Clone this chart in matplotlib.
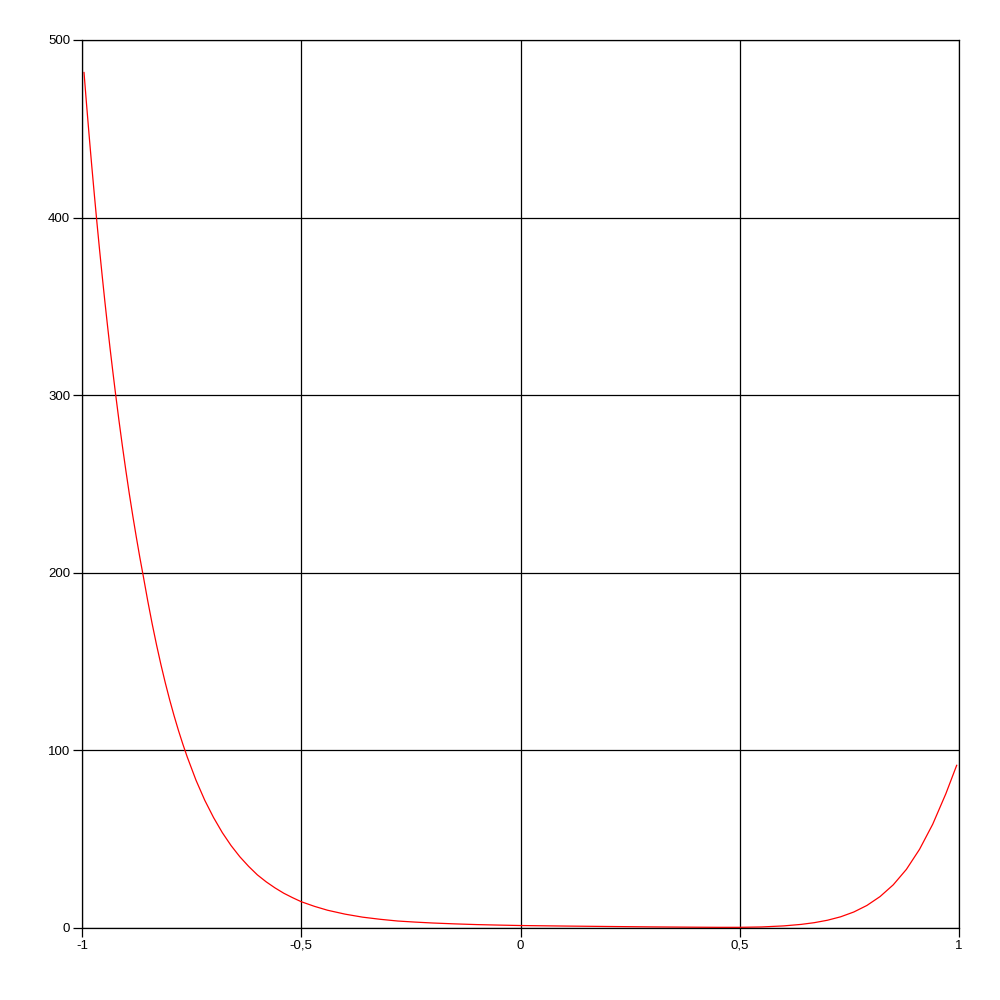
import matplotlib
matplotlib.use("Agg")
import matplotlib.pyplot as plt

# Values (readings smoothed by eye)
x_values = [-0.9954, -0.990, -0.984, -0.978, -0.972, -0.966, -0.960, -0.954,
            -0.948, -0.942, -0.936, -0.930, -0.924, -0.916, -0.908, -0.900,
            -0.892, -0.884, -0.876, -0.868, -0.860, -0.850, -0.840, -0.830,
            -0.820, -0.810, -0.800, -0.790, -0.780, -0.770, -0.760, -0.740,
            -0.720, -0.700, -0.680, -0.660, -0.640, -0.620, -0.600, -0.580,
            -0.560, -0.540, -0.520, -0.500, -0.470, -0.440, -0.400, -0.360,
            -0.320, -0.280, -0.240, -0.200, -0.150, -0.100, -0.050, 0.000,
            0.100, 0.200, 0.300, 0.400, 0.450, 0.500, 0.550, 0.600,
            0.640, 0.670, 0.700, 0.730, 0.760, 0.790, 0.820, 0.850,
            0.880, 0.910, 0.940, 0.970, 0.9947]
y_values = [481.7, 464.9, 447.0, 429.8, 413.3, 397.3, 382.0, 367.3,
            353.1, 339.5, 326.4, 313.9, 301.8, 286.3, 271.6, 257.6,
            244.3, 231.8, 219.9, 208.5, 197.8, 184.1, 171.3, 159.4,
            148.3, 138.0, 128.4, 119.5, 111.2, 103.5, 96.3, 83.2,
            71.9, 62.2, 53.7, 46.4, 40.1, 34.7, 29.9, 26.0,
            22.6, 19.6, 17.1, 14.8, 12.2, 10.0, 7.8, 6.1,
            4.9, 3.93, 3.32, 2.81, 2.32, 1.92, 1.64, 1.39,
            1.10, 0.85, 0.62, 0.45, 0.38, 0.38, 0.59, 1.18,
            2.03, 3.0, 4.37, 6.3, 9.0, 12.7, 17.7, 24.3,
            33.0, 44.3, 58.4, 75.6, 91.6]

x_ticks = [-1, -0.5, 0, 0.5, 1]
x_tick_labels = ["-1", "-0,5", "0", "0,5", "1"]
y_ticks = [0, 100, 200, 300, 400, 500]
y_tick_labels = ["0", "100", "200", "300", "400", "500"]

fig = plt.figure(figsize=(10, 10), dpi=100)
ax = fig.add_axes([0.082, 0.072, 0.877, 0.888])

ax.plot(x_values, y_values, color="#ff0000", linewidth=0.9, solid_joinstyle="round")

ax.set_xlim(-1, 1)
ax.set_ylim(0, 500)
ax.set_xticks(x_ticks)
ax.set_xticklabels(x_tick_labels, fontsize=9.5, family="Liberation Sans")
ax.set_yticks(y_ticks)
ax.set_yticklabels(y_tick_labels, fontsize=9.5, family="Liberation Sans")

ax.grid(True, color="black", linewidth=0.9, linestyle="-")
ax.set_axisbelow(True)
for sp in ax.spines.values():
    sp.set_color("black")
    sp.set_linewidth(0.9)
ax.tick_params(axis="both", direction="out", length=6.5, width=0.9, color="black",
               pad=2, labelcolor="black")

fig.savefig("out.png", dpi=100, facecolor="white")
